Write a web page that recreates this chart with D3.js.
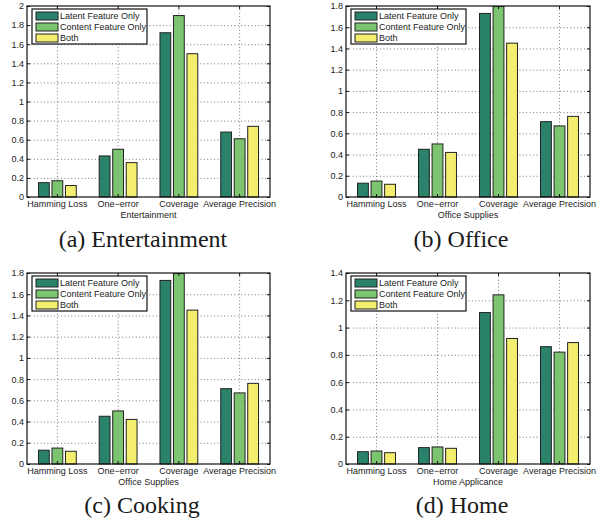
<!DOCTYPE html>
<html>
<head>
<meta charset="utf-8">
<script src="https://cdn.jsdelivr.net/npm/d3@7"></script>
<style>
  html, body { margin: 0; padding: 0; background: #fff; }
  svg { display: block; }
  .sans, .tick text { font-family: "Liberation Sans", Arial, Helvetica, sans-serif; font-size: 9px; fill: #222; }
  .caption { font-family: "Liberation Serif", "Times New Roman", Times, serif; font-size: 24px; fill: #1a1a1a; }
</style>
</head>
<body>
<svg id="fig" width="608" height="522"></svg>
<script>
// Evaluation metrics shown on every panel
const metrics = ["Hamming Loss", "One\u2212error", "Coverage", "Average Precision"];
const seriesNames = ["Latent Feature Only", "Content Feature Only", "Both"];
const seriesColors = ["#2a826b", "#7cc46f", "#f4ee6e"];

// (a) Entertainment
const entertainmentLatent  = [0.15, 0.43, 1.72, 0.68];
const entertainmentContent = [0.17, 0.50, 1.90, 0.61];
const entertainmentBoth    = [0.12, 0.36, 1.50, 0.74];

// (b) Office
const officeLatent  = [0.13, 0.45, 1.73, 0.71];
const officeContent = [0.15, 0.50, 1.795, 0.67];
const officeBoth    = [0.12, 0.42, 1.45, 0.76];

// (c) Cooking
const cookingLatent  = [0.13, 0.45, 1.73, 0.71];
const cookingContent = [0.15, 0.50, 1.795, 0.67];
const cookingBoth    = [0.12, 0.42, 1.45, 0.76];

// (d) Home
const homeLatent  = [0.09, 0.12, 1.11, 0.86];
const homeContent = [0.095, 0.125, 1.24, 0.82];
const homeBoth    = [0.083, 0.115, 0.92, 0.89];

// y tick values per panel
const ticksTo2   = [0, 0.2, 0.4, 0.6, 0.8, 1, 1.2, 1.4, 1.6, 1.8, 2];
const ticksTo1_8 = [0, 0.2, 0.4, 0.6, 0.8, 1, 1.2, 1.4, 1.6, 1.8];
const ticksTo1_4 = [0, 0.2, 0.4, 0.6, 0.8, 1, 1.2, 1.4];

const xLabels  = ["Entertainment", "Office Supplies", "Office Supplies", "Home Applicance"];
const captions = ["(a) Entertainment", "(b) Office", "(c) Cooking", "(d) Home"];

const panels = [
  { series: [entertainmentLatent, entertainmentContent, entertainmentBoth], ticks: ticksTo2,
    xLabel: xLabels[0], caption: captions[0], left: 27, right: 270, top: 6, bottom: 197, capY: 247, capX: 143 },
  { series: [officeLatent, officeContent, officeBoth], ticks: ticksTo1_8,
    xLabel: xLabels[1], caption: captions[1], left: 346, right: 590, top: 6, bottom: 197, capY: 247, capX: 461 },
  { series: [cookingLatent, cookingContent, cookingBoth], ticks: ticksTo1_8,
    xLabel: xLabels[2], caption: captions[2], left: 27, right: 270, top: 273, bottom: 464, capY: 513, capX: 142 },
  { series: [homeLatent, homeContent, homeBoth], ticks: ticksTo1_4,
    xLabel: xLabels[3], caption: captions[3], left: 346, right: 590, top: 273, bottom: 464, capY: 513, capX: 462 }
];

const svg = d3.select("#fig");
const fmt = d3.format("~g");

panels.forEach(p => {
  const w = p.right - p.left, h = p.bottom - p.top;
  const g = svg.append("g").attr("transform", `translate(${p.left},${p.top})`);

  const x = d3.scaleBand().domain(metrics).range([0, w]).padding(0);
  const groupW = x.bandwidth() * 3 / 4.5;
  const xs = d3.scaleBand().domain(d3.range(seriesNames.length))
    .range([-groupW / 2, groupW / 2]).paddingInner(0.2).paddingOuter(0.1);
  const y = d3.scaleLinear().domain([0, d3.max(p.ticks)]).range([h, 0]);

  // dotted grid
  const grid = g.append("g").attr("stroke", "#6a6a6a").attr("stroke-width", 0.9)
    .attr("stroke-dasharray", "1,2.4");
  grid.selectAll("line.gy").data(p.ticks.slice(1, -1)).join("line")
    .attr("x1", 0).attr("x2", w).attr("y1", d => y(d) + 0.5).attr("y2", d => y(d) + 0.5);
  grid.selectAll("line.gx").data(metrics).join("line")
    .attr("x1", d => x(d) + x.bandwidth() / 2).attr("x2", d => x(d) + x.bandwidth() / 2)
    .attr("y1", 0).attr("y2", h);

  // bars
  p.series.forEach((vals, si) => {
    g.append("g").selectAll("rect").data(vals).join("rect")
      .attr("x", (d, i) => x(metrics[i]) + x.bandwidth() / 2 + xs(si))
      .attr("width", xs.bandwidth())
      .attr("y", d => y(d))
      .attr("height", d => h - y(d))
      .attr("fill", seriesColors[si])
      .attr("stroke", "#222").attr("stroke-width", 1);
  });

  // axes with inward ticks on all four sides
  const yl = g.append("g").call(d3.axisLeft(y).tickValues(p.ticks).tickFormat(fmt)
    .tickSizeInner(-3).tickSizeOuter(0).tickPadding(3));
  const yr = g.append("g").attr("transform", `translate(${w},0)`)
    .call(d3.axisRight(y).tickValues(p.ticks).tickFormat("").tickSizeInner(-3).tickSizeOuter(0));
  const xb = g.append("g").attr("transform", `translate(0,${h})`)
    .call(d3.axisBottom(x).tickSizeInner(-3).tickSizeOuter(0).tickPadding(4));
  const xt = g.append("g")
    .call(d3.axisTop(x).tickFormat("").tickSizeInner(-3).tickSizeOuter(0));
  [yl, yr, xb, xt].forEach(a => {
    a.attr("font-family", null).attr("font-size", null);
    a.select(".domain").remove();
    a.selectAll(".tick line").attr("stroke", "#111");
  });
  xb.selectAll(".tick text").attr("dy", "0.71em");

  // frame
  g.append("rect").attr("x", 0).attr("y", 0).attr("width", w).attr("height", h)
    .attr("fill", "none").attr("stroke", "#111").attr("stroke-width", 1.2);

  // x-axis title
  g.append("text").attr("class", "sans").attr("x", w / 2).attr("y", h + 21)
    .attr("text-anchor", "middle").text(p.xLabel);

  // legend
  const lg = g.append("g").attr("transform", "translate(5,3)");
  lg.append("rect").attr("width", 115).attr("height", 35)
    .attr("fill", "#fff").attr("stroke", "#111").attr("stroke-width", 1.2);
  seriesNames.forEach((name, i) => {
    const row = lg.append("g").attr("transform", `translate(4,${3 + i * 11})`);
    row.append("rect").attr("width", 22).attr("height", 8)
      .attr("fill", seriesColors[i]).attr("stroke", "#222").attr("stroke-width", 1);
    row.append("text").attr("class", "sans").attr("x", 24).attr("y", 4).attr("dy", "0.35em")
      .text(name);
  });

  // sub-figure caption
  svg.append("text").attr("class", "caption").attr("x", p.capX).attr("y", p.capY)
    .attr("text-anchor", "middle").text(p.caption);
});
</script>
</body>
</html>
